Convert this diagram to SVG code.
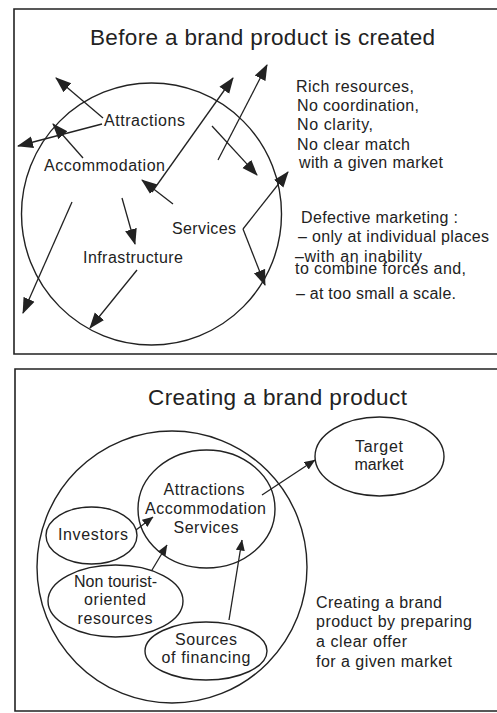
<svg xmlns="http://www.w3.org/2000/svg" width="497" height="713" viewBox="0 0 497 713">
  <style>
    .frame { fill: none; stroke: #222; stroke-width: 1.6; }
    .ring { fill: none; stroke: #222; stroke-width: 1.4; }
    .link { fill: none; stroke: #222; stroke-width: 1.3; }
    .big { marker-end: url(#headL); }
    .small { marker-end: url(#headS); }
    text { font-family: "Liberation Sans", Arial, sans-serif; fill: #222; }
    .title { font-size: 22.5px; text-anchor: middle; }
    .lbl { font-size: 16px; }
    .mid { text-anchor: middle; }
  </style>
  <defs>
    <marker id="headL" markerUnits="userSpaceOnUse" markerWidth="16" markerHeight="14" viewBox="0 0 16 12" refX="15" refY="6" orient="auto">
      <path d="M0,0 L16,6 L0,12 Z" fill="#222"/>
    </marker>
    <marker id="headS" markerUnits="userSpaceOnUse" markerWidth="11" markerHeight="9" viewBox="0 0 11 9" refX="10.5" refY="4.5" orient="auto">
      <path d="M0,0 L11,4.5 L0,9 Z" fill="#222"/>
    </marker>
  </defs>

  <!-- Upper panel: before a brand product exists -->
  <g id="panel-before">
    <path class="frame" d="M497,9 L14,9 L14,354 L497,354"/>
    <text class="title" x="262.5" y="45" textLength="345">Before a brand product is created</text>
    <ellipse id="region-before" class="ring" cx="151.5" cy="214" rx="130" ry="131"/>
  </g>

  <g id="node-attractions"><text class="lbl" x="104" y="126" textLength="81">Attractions</text></g>
  <g id="node-accommodation"><text class="lbl" x="44" y="171" textLength="121">Accommodation</text></g>
  <g id="node-services"><text class="lbl" x="172" y="234" textLength="64">Services</text></g>
  <g id="node-infrastructure"><text class="lbl" x="83" y="263" textLength="100">Infrastructure</text></g>

  <g id="note-problems">
    <text class="lbl" x="296" y="92" textLength="118">Rich resources,</text>
    <text class="lbl" x="297" y="111" textLength="122">No coordination,</text>
    <text class="lbl" x="297" y="130" textLength="76">No clarity,</text>
    <text class="lbl" x="297" y="150" textLength="113">No clear match</text>
    <text class="lbl" x="299" y="168" textLength="144">with a given market</text>
  </g>
  <g id="note-marketing">
    <text class="lbl" x="301" y="223" textLength="157">Defective marketing :</text>
    <text class="lbl" x="298" y="242" textLength="191">– only at individual places</text>
    <text class="lbl" x="295" y="262" textLength="127">–with an inability</text>
    <text class="lbl" x="295" y="274" textLength="171">to combine forces and,</text>
    <text class="lbl" x="296" y="299" textLength="160">– at too small a scale.</text>
  </g>

  <!-- Scattered, uncoordinated arrows -->
  <g id="connectors-before">
    <line class="link big" x1="103" y1="118" x2="56" y2="78"/>
    <line class="link big" x1="102" y1="124" x2="18" y2="146"/>
    <line class="link big" x1="83" y1="158" x2="53" y2="124"/>
    <line class="link big" x1="72" y1="202" x2="23" y2="313"/>
    <line class="link big" x1="122" y1="198" x2="135" y2="244"/>
    <line class="link big" x1="137" y1="270" x2="90" y2="328"/>
    <line class="link big" x1="173" y1="204" x2="142" y2="180"/>
    <line class="link big" x1="152" y1="192" x2="233" y2="78"/>
    <line class="link big" x1="218" y1="160" x2="267" y2="65"/>
    <line class="link big" x1="212" y1="126" x2="257" y2="175"/>
    <line class="link big" x1="243" y1="229" x2="288" y2="172"/>
    <line class="link big" x1="243" y1="229" x2="265" y2="285"/>
  </g>

  <!-- Lower panel: creating a brand product -->
  <g id="panel-creating">
    <path class="frame" d="M497,369 L15,369 L15,711 L497,711"/>
    <text class="title" x="277.5" y="405" textLength="259">Creating a brand product</text>
    <ellipse id="region-creating" class="ring" cx="172" cy="567" rx="135" ry="136"/>
  </g>

  <g id="node-core">
    <ellipse class="ring" cx="206.5" cy="509" rx="68.5" ry="59"/>
    <text class="lbl mid" x="204" y="495" textLength="81">Attractions</text>
    <text class="lbl mid" x="205.5" y="514" textLength="121">Accommodation</text>
    <text class="lbl mid" x="206" y="533" textLength="65">Services</text>
  </g>
  <g id="node-investors">
    <ellipse class="ring" cx="91.5" cy="535.5" rx="45.5" ry="28.5"/>
    <text class="lbl mid" x="93" y="540" textLength="70">Investors</text>
  </g>
  <g id="node-resources">
    <ellipse class="ring" cx="115.5" cy="601" rx="67.5" ry="36"/>
    <text class="lbl mid" x="115.5" y="587" textLength="83">Non tourist-</text>
    <text class="lbl mid" x="115" y="605" textLength="62">oriented</text>
    <text class="lbl mid" x="115" y="624" textLength="75">resources</text>
  </g>
  <g id="node-financing">
    <ellipse class="ring" cx="206" cy="651" rx="61" ry="29"/>
    <text class="lbl mid" x="206" y="645" textLength="62">Sources</text>
    <text class="lbl mid" x="206" y="663" textLength="89">of financing</text>
  </g>
  <g id="node-target">
    <ellipse class="ring" cx="379.5" cy="456.5" rx="64.5" ry="39.5"/>
    <text class="lbl mid" x="379" y="452" textLength="48">Target</text>
    <text class="lbl mid" x="379" y="470" textLength="49">market</text>
  </g>
  <g id="note-offer">
    <text class="lbl" x="316" y="608" textLength="126">Creating a brand</text>
    <text class="lbl" x="316" y="627" textLength="156">product by preparing</text>
    <text class="lbl" x="316" y="647" textLength="91">a clear offer</text>
    <text class="lbl" x="316" y="667" textLength="136">for a given market</text>
  </g>

  <g id="connectors-creating">
    <line class="link small" x1="262" y1="495" x2="315" y2="460"/>
    <line class="link small" x1="136" y1="530" x2="153" y2="517"/>
    <line class="link small" x1="152" y1="570" x2="167" y2="545"/>
    <line class="link small" x1="229" y1="620" x2="242" y2="540"/>
  </g>
</svg>
